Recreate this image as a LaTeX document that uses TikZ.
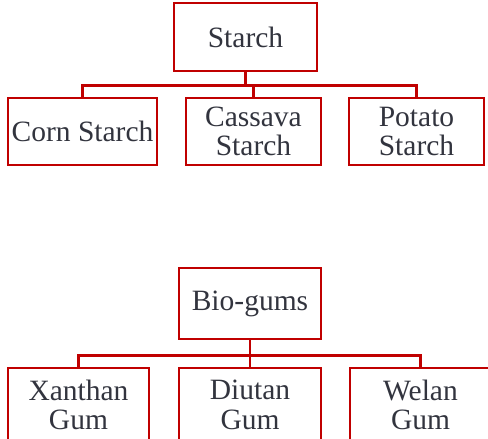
\documentclass[tikz,border=0pt]{standalone}
\usepackage{fontspec}
\setmainfont{Liberation Serif}
\usepackage{xcolor}
\usepackage{tikz}
\usetikzlibrary{positioning, calc}
\definecolor{BoxRed}{RGB}{192,0,0}
\definecolor{TextGrey}{RGB}{50,52,62}
\tikzset{
  % box for every category
  cat box/.style={draw=BoxRed,line width=2.7pt,rectangle,inner sep=0pt,
    text=TextGrey,align=center,font=\fontsize{29.5}{29.5}\selectfont},
  cat top/.style={cat box,minimum width=143pt,minimum height=68pt},
  cat sub/.style={cat box,minimum width=135pt,minimum height=67pt},
  % tree lines
  connect/.style={draw=BoxRed,line width=2.7pt}
}
\begin{document}
\begin{tikzpicture}[x=1pt,y=-1pt]
    \useasboundingbox (0,0) rectangle (488,439);
    % starch family
    \node[cat top] (starch) at (245.5,37) {Starch};
    \node[cat sub,minimum width=149pt] (corn) at (82.5,131.5) {Corn Starch};
    \node[cat sub] (cassava) at (253.5,131.5) {Cassava\\Starch};
    \node[cat sub] (potato) at (416.5,131.5) {Potato\\Starch};
    \coordinate (sbus) at ($(starch.south)+(0,13)$);
    \draw[connect] (starch.south) -- (sbus);
    \draw[connect] (corn.north) |- (sbus) -| (potato.north);
    \draw[connect] (cassava.north) -- (cassava.north |- sbus);
    % bio-gums family
    \node[cat top,minimum width=142pt,minimum height=71pt] (biogums) at (250,303.5) {Bio-gums};
    \node[cat sub,minimum width=141pt,minimum height=74pt] (xanthan) at (78.5,405) {Xanthan\\Gum};
    \node[cat sub,minimum width=142pt,minimum height=74pt] (diutan) at (250,405) {Diutan\\Gum};
    \node[cat sub,minimum width=141pt,minimum height=74pt] (welan) at (420.5,405) {Welan\\Gum};
    \coordinate (gbus) at ($(biogums.south)+(0,15)$);
    \draw[connect] (biogums.south) -- (diutan.north);
    \draw[connect] (xanthan.north) |- (gbus) -| (welan.north);
\end{tikzpicture}
\end{document}
